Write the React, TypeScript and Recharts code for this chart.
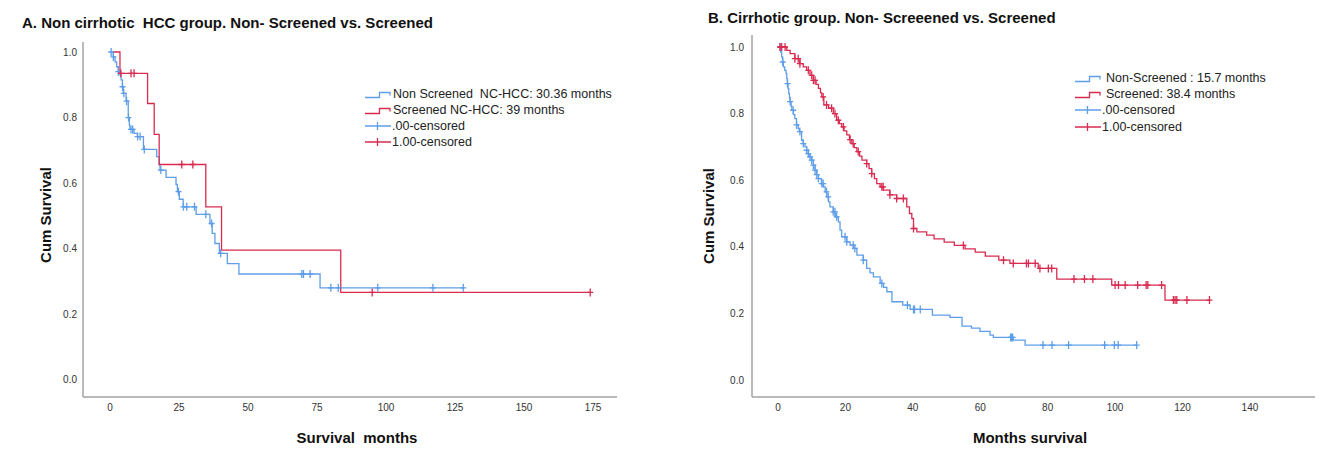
import { ComposedChart, Line, Scatter, XAxis, YAxis } from 'recharts'

const BLUE = '#5e9ee9'
const RED = '#d92b50'
const AXIS = '#a3a3a3'
const FONT = 'Arial, "Liberation Sans", Helvetica, sans-serif'

// A. non-cirrhotic HCC — Kaplan-Meier steps (months, cumulative survival)
const ncNonScreenedTimes = [0.4, 1.2, 1.8, 2.4, 3.0, 3.6, 4.0, 4.5, 4.8, 5.8, 6.6, 7.0, 7.2, 8.7, 9.9, 12.1, 16.9, 17.8, 18.1, 20.3, 23.9, 24.4, 25.1, 26.5, 31.2, 36.2, 37.0, 38.0, 39.6, 42.5, 46.7, 76.1, 128]
const ncNonScreenedSurv = [1.0, 0.985, 0.97, 0.955, 0.94, 0.93, 0.915, 0.894, 0.874, 0.85, 0.8, 0.777, 0.764, 0.752, 0.742, 0.703, 0.681, 0.657, 0.64, 0.618, 0.596, 0.574, 0.551, 0.528, 0.505, 0.477, 0.447, 0.416, 0.386, 0.355, 0.323, 0.281, 0.281]
const ncNonScreenedCensored = [0.4, 1.2, 3.0, 4.5, 5.0, 6.0, 6.7, 7.6, 8.2, 10.0, 10.9, 12.4, 18.4, 24.8, 26.6, 27.8, 30.6, 34.7, 36.8, 40.1, 69.5, 70.1, 72.5, 80, 82.7, 97, 117, 128]

const ncScreenedTimes = [1, 3.6, 13.6, 16, 17.8, 34.7, 40.4, 83.6, 174]
const ncScreenedSurv = [1.0, 0.935, 0.843, 0.749, 0.657, 0.528, 0.396, 0.267, 0.267]
const ncScreenedCensored = [3.9, 7.6, 8.7, 26, 30, 95, 174]

// B. cirrhotic group
const cirNonScreenedTimes = [0.4, 0.8, 1.1, 1.4, 1.6, 2.0, 2.4, 2.6, 2.8, 3.0, 3.2, 3.4, 3.6, 3.9, 4.1, 4.6, 5.0, 5.5, 6.0, 6.3, 7.0, 7.5, 8.0, 8.5, 9.0, 9.5, 10.0, 10.5, 11.0, 11.5, 12.0, 12.9, 13.5, 14.0, 14.5, 15.0, 15.4, 16.4, 17.0, 17.9, 18.4, 18.9, 20.4, 21.4, 22.4, 23.4, 25.3, 26.3, 27.3, 28.3, 30.3, 31.3, 32.3, 33.8, 37.0, 39.2, 45.8, 51.0, 54.6, 57.4, 59.9, 62.9, 63.9, 69.8, 73.3, 106.4]
const cirNonScreenedSurv = [1.0, 0.985, 0.97, 0.955, 0.94, 0.93, 0.92, 0.905, 0.89, 0.875, 0.86, 0.848, 0.836, 0.822, 0.81, 0.797, 0.785, 0.766, 0.755, 0.746, 0.72, 0.71, 0.7, 0.69, 0.68, 0.67, 0.66, 0.645, 0.63, 0.617, 0.605, 0.59, 0.58, 0.565, 0.55, 0.535, 0.52, 0.505, 0.49, 0.475, 0.45, 0.43, 0.415, 0.405, 0.395, 0.375, 0.36, 0.335, 0.322, 0.31, 0.29, 0.278, 0.265, 0.235, 0.225, 0.212, 0.195, 0.188, 0.162, 0.156, 0.146, 0.135, 0.128, 0.12, 0.105, 0.105]
const cirNonScreenedCensored = [0.6, 1.4, 2.8, 3.6, 4.5, 5.5, 6.5, 7.5, 8.5, 9.0, 9.5, 10.0, 10.5, 11.0, 11.5, 12.0, 13.0, 13.4, 14.4, 14.9, 16.4, 16.9, 17.4, 19.9, 20.4, 22.3, 22.8, 25.3, 30.8, 38.4, 40.2, 40.5, 42.2, 69.0, 69.3, 69.6, 78.6, 81.3, 86.2, 96.9, 99.8, 100.9, 106.4]

const cirScreenedTimes = [0, 2.6, 3.6, 5.0, 6.5, 7.5, 8.5, 9.5, 10.5, 11.3, 12.0, 12.6, 13.0, 13.6, 15.0, 16.4, 17.4, 18.2, 18.9, 19.6, 20.4, 21.2, 21.9, 22.6, 23.4, 24.2, 24.9, 26.3, 27.0, 27.8, 28.6, 29.3, 30.3, 31.3, 33.2, 35.2, 38.2, 39.0, 39.7, 40.2, 41.2, 44.1, 46.3, 49.3, 52.3, 55.5, 58.5, 61.5, 65.5, 68.8, 77.2, 82.7, 99.0, 114.8, 128]
const cirScreenedSurv = [1.0, 0.99, 0.98, 0.965, 0.95, 0.94, 0.93, 0.915, 0.9, 0.888, 0.876, 0.862, 0.85, 0.826, 0.816, 0.8, 0.78, 0.77, 0.76, 0.748, 0.736, 0.722, 0.71, 0.698, 0.686, 0.672, 0.66, 0.65, 0.635, 0.62, 0.605, 0.59, 0.58, 0.57, 0.556, 0.545, 0.52, 0.5, 0.485, 0.455, 0.445, 0.435, 0.424, 0.414, 0.404, 0.394, 0.384, 0.372, 0.36, 0.35, 0.335, 0.303, 0.285, 0.24, 0.24]
const cirScreenedCensored = [0.6, 1.1, 2.1, 5, 6, 6.5, 9, 10, 10.5, 11, 13.4, 14.4, 15.9, 16.9, 17.9, 19.4, 21.4, 22.3, 23.8, 26.3, 27.8, 30.8, 31.2, 33.2, 35.2, 37.2, 40.2, 55, 66.9, 69.8, 73.7, 74.3, 76.3, 77.7, 80.2, 81.2, 87.8, 90.9, 93.4, 100, 101, 103, 106.7, 109.2, 109.7, 113.8, 117.3, 117.8, 118.3, 121.3, 128]

const ncMonthTicks = [0, 25, 50, 75, 100, 125, 150, 175]
const cirMonthTicks = [0, 20, 40, 60, 80, 100, 120, 140]
const survivalTicks = [0, 0.2, 0.4, 0.6, 0.8, 1.0]

const ncLegend = ['Non Screened  NC-HCC: 30.36 months', 'Screened NC-HCC: 39 months', '.00-censored', '1.00-censored']
const cirLegend = ['Non-Screened : 15.7 months', 'Screened: 38.4 months', '.00-censored', '1.00-censored']

type Series = { key: string; color: string; times: number[]; surv: number[]; censored: number[] }

const survivalAt = (times: number[], surv: number[], t: number) => {
  let s = surv[0]
  for (let i = 0; i < times.length && times[i] <= t; i++) s = surv[i]
  return s
}

const toSteps = (sr: Series) => sr.times.map((t, i) => ({ t, s: sr.surv[i] }))
const toCensor = (sr: Series) => sr.censored.map((t) => ({ t, s: survivalAt(sr.times, sr.surv, t) }))

function CensorMark({ cx, cy, color }: { cx: number; cy: number; color: string }) {
  if (cx == null || cy == null) return null
  return (
    <path
      d={`M${cx},${cy - 4}V${cy + 4}M${cx - 3},${cy}H${cx + 3}`}
      stroke={color}
      strokeWidth={1.3}
      fill="none"
    />
  )
}

interface PanelProps {
  left: number
  width: number
  axisX: number
  axisTop: number
  axisRight: number
  xDomain: [number, number]
  xTicks: number[]
  yDomain: [number, number]
  tickGap: number
  series: Series[]
}

function KMPanel({ left, width, axisX, axisTop, axisRight, xDomain, xTicks, yDomain, tickGap, series }: PanelProps) {
  const tickStyle = { fill: '#333', fontSize: 10, fontFamily: FONT }
  return (
    <div style={{ position: 'absolute', left, top: 0 }}>
      <ComposedChart
        width={width}
        height={459}
        margin={{ top: axisTop, right: left + width - axisRight, bottom: 0, left: 0 }}
      >
        <XAxis
          type="number"
          dataKey="t"
          domain={xDomain}
          ticks={xTicks}
          allowDataOverflow
          interval={0}
          height={62}
          tickLine={false}
          tickSize={0}
          tickMargin={7}
          axisLine={{ stroke: AXIS, strokeWidth: 1.5 }}
          tick={tickStyle}
        />
        <YAxis
          type="number"
          dataKey="s"
          domain={yDomain}
          ticks={survivalTicks}
          allowDataOverflow
          interval={0}
          width={axisX - left}
          tickLine={false}
          tickSize={0}
          tickMargin={tickGap}
          axisLine={{ stroke: AXIS, strokeWidth: 1.5 }}
          tick={tickStyle}
          tickFormatter={(v: number) => v.toFixed(1)}
        />
        {series.map((sr) => (
          <Line
            key={sr.key}
            data={toSteps(sr)}
            dataKey="s"
            type="stepAfter"
            stroke={sr.color}
            strokeWidth={1.3}
            dot={false}
            activeDot={false}
            isAnimationActive={false}
          />
        ))}
        {series.map((sr) => (
          <Scatter
            key={sr.key + '-c'}
            data={toCensor(sr)}
            dataKey="s"
            isAnimationActive={false}
            shape={(p: any) => <CensorMark cx={p.cx} cy={p.cy} color={sr.color} />}
          />
        ))}
      </ComposedChart>
    </div>
  )
}

function StepIcon({ color }: { color: string }) {
  return (
    <svg width={26} height={12} style={{ display: 'block' }}>
      <path d="M0,9.5H14.5V4.5H25V7.5" stroke={color} strokeWidth={1.3} fill="none" />
    </svg>
  )
}

function CensorIcon({ color }: { color: string }) {
  return (
    <svg width={26} height={12} style={{ display: 'block' }}>
      <path d="M0,6H26M12.5,2V10" stroke={color} strokeWidth={1.3} fill="none" />
    </svg>
  )
}

function KMLegend({ x, y, rowGap, labels, lineGap }: { x: number; y: number; rowGap: number; labels: string[]; lineGap: number }) {
  const colors = [BLUE, RED, BLUE, RED]
  return (
    <div style={{ position: 'absolute', left: x, top: y }}>
      {labels.map((label, i) => (
        <div
          key={label}
          style={{ position: 'absolute', top: i * rowGap - 6, left: 0, display: 'flex', alignItems: 'center', height: 12 }}
        >
          {i < 2 ? <StepIcon color={colors[i]} /> : <CensorIcon color={colors[i]} />}
          <span
            style={{
              marginLeft: i < 2 ? lineGap : 1,
              fontSize: 12.5,
              color: '#222',
              whiteSpace: 'pre',
              lineHeight: '12px',
            }}
          >
            {label}
          </span>
        </div>
      ))}
    </div>
  )
}

const textBase = { position: 'absolute' as const, whiteSpace: 'pre' as const, color: '#111', lineHeight: 1 }

export default function App() {
  const ncSeries: Series[] = [
    { key: 'nc-non', color: BLUE, times: ncNonScreenedTimes, surv: ncNonScreenedSurv, censored: ncNonScreenedCensored },
    { key: 'nc-scr', color: RED, times: ncScreenedTimes, surv: ncScreenedSurv, censored: ncScreenedCensored },
  ]
  const cirSeries: Series[] = [
    { key: 'cir-non', color: BLUE, times: cirNonScreenedTimes, surv: cirNonScreenedSurv, censored: cirNonScreenedCensored },
    { key: 'cir-scr', color: RED, times: cirScreenedTimes, surv: cirScreenedSurv, censored: cirScreenedCensored },
  ]

  return (
    <div
      style={{
        position: 'absolute',
        left: 0,
        top: 0,
        width: 1343,
        height: 459,
        background: '#fff',
        fontFamily: FONT,
        overflow: 'hidden',
      }}
    >
      <KMPanel
        left={0}
        width={660}
        axisX={83}
        axisTop={42}
        axisRight={617}
        xDomain={[-9.8, 183.7]}
        xTicks={ncMonthTicks}
        yDomain={[-0.052, 1.0305]}
        tickGap={6}
        series={ncSeries}
      />
      <KMPanel
        left={660}
        width={683}
        axisX={752}
        axisTop={35}
        axisRight={1315}
        xDomain={[-7.71, 159.3]}
        xTicks={cirMonthTicks}
        yDomain={[-0.051, 1.036]}
        tickGap={8}
        series={cirSeries}
      />

      <div style={{ ...textBase, left: 22, top: 15, fontSize: 15, fontWeight: 700 }}>
        A. Non cirrhotic  HCC group. Non- Screened vs. Screened
      </div>
      <div style={{ ...textBase, left: 708, top: 10, fontSize: 15, fontWeight: 700 }}>
        B. Cirrhotic group. Non- Screeened vs. Screened
      </div>

      <div style={{ ...textBase, left: 45, top: 215, fontSize: 15, fontWeight: 700, transform: 'translate(-50%, -50%) rotate(-90deg)' }}>
        Cum Survival
      </div>
      <div style={{ ...textBase, left: 708, top: 216, fontSize: 15, fontWeight: 700, transform: 'translate(-50%, -50%) rotate(-90deg)' }}>
        Cum Survival
      </div>

      <div style={{ ...textBase, left: 357, top: 437, fontSize: 15, fontWeight: 700, transform: 'translate(-50%, -50%)' }}>
        Survival  months
      </div>
      <div style={{ ...textBase, left: 1030, top: 437, fontSize: 15, fontWeight: 700, transform: 'translate(-50%, -50%)' }}>
        Months survival
      </div>

      <KMLegend x={365} y={94} rowGap={15.9} labels={ncLegend} lineGap={2} />
      <KMLegend x={1075} y={78} rowGap={16.2} labels={cirLegend} lineGap={5} />
    </div>
  )
}
